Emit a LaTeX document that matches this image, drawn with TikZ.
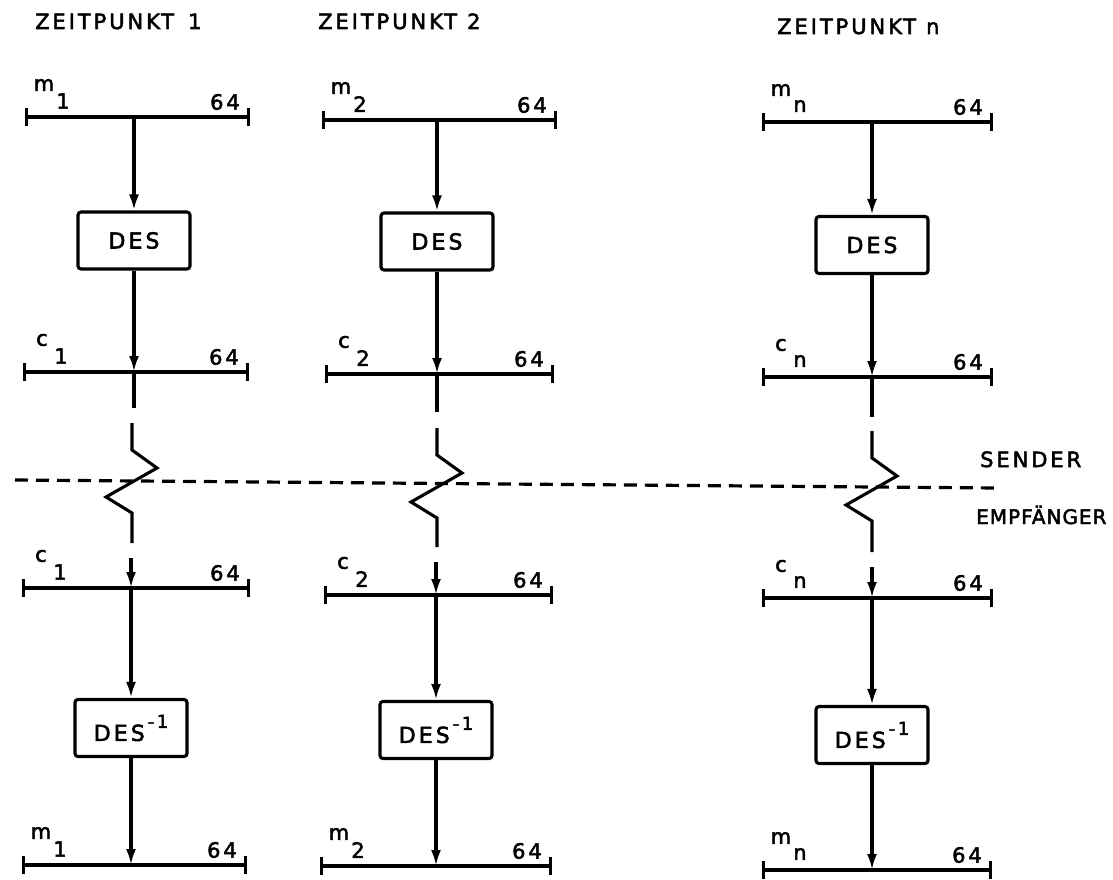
\documentclass[tikz,border=0pt]{standalone}
\usepackage{fontspec}
\setmainfont{DejaVu Sans}[LetterSpace=14, FakeBold=2.4]
\usetikzlibrary{arrows.meta}
\tikzset{
  ln/.style={line width=3.1pt},
  arr/.style={ln,-{Latex[length=16pt,width=10pt]}},
  barline/.style={ln,{Bar[width=18pt,line width=3.4pt]}-{Bar[width=18pt,line width=3.4pt]}},
  sep/.style={line width=3.2pt, dash pattern=on 13pt off 8pt},
  desbox/.style={draw, ln, rounded corners=3pt, minimum width=112pt, minimum height=57pt, inner sep=0pt, font=\fontsize{22}{24}\selectfont},
  lbl/.style={inner sep=0pt, font=\fontsize{21}{22}\selectfont},
  ttl/.style={inner sep=0pt, anchor=base west, font=\fontsize{21}{24}\selectfont},
}
% name, xl, xr, y, cx, letter, sub
\newcommand\databar[7]{%
  \coordinate (#1L) at (#2,#4);
  \coordinate (#1R) at (#3,#4);
  \coordinate (#1C) at (#5,#4);
  \draw[barline] (#1L) -- (#1R);
  \node[lbl] (#1a) at ({#2+19},{#4-32}) {#6};
  \node[lbl] (#1b) at ({#2+38},{#4-16}) {#7};
  \node[lbl, anchor=east] (#1c) at ({#3-10},{#4-15}) {64};
}
\begin{document}
\begin{tikzpicture}[x=1pt,y=-1pt]
\useasboundingbox[fill=white] (0,0) rectangle (1113,880);

% titles
\node[ttl] (T1) at (35,29) {ZEITPUNKT\hspace{14pt}1};
\node[ttl] (T2) at (318,29) {ZEITPUNKT\hspace{10pt}2};
\node[ttl] (T3) at (777,34) {ZEITPUNKT\hspace{10pt}n};

% separator
\coordinate (sepL) at (15,480);
\coordinate (sepR) at (998,488);
\draw[sep] (sepL) -- (sepR);
\node[ttl] (snd) at (980,467) {SENDER};
\node[ttl, font=\fontsize{20}{24}\selectfont\addfontfeature{LetterSpace=5}] (emp) at (976,524) {EMPFÄNGER};

% ---------- column 1 ----------
\databar{t1}{25}{250}{117}{134}{m}{1}
\node[desbox] (d1) at (134,240.5) {DES};
\databar{c1}{23}{249}{372}{134}{c}{1}
\coordinate (s1a) at (134,408);
\coordinate (z1a) at (132,423);
\coordinate (z1b) at (132,543);
\coordinate (s1b) at (131,558);
\databar{e1}{22}{250}{588}{131}{c}{1}
\node[desbox] (i1) at (131,728) {DES\hspace{3pt}\raisebox{13pt}{\fontsize{18}{18}\selectfont -1}};
\databar{b1}{22}{247}{865}{131}{m}{1}

\draw[arr] (t1C) -- (d1.north);
\draw[arr] (d1.south) -- (c1C);
\draw[ln] (c1C) -- (s1a);
\draw[ln] (z1a) -- ++(0,27) -- ++(25,18) -- ++(-51,29) -- ++(26,16) -- (z1b);
\draw[arr] (s1b) -- (e1C);
\draw[arr] (e1C) -- (i1.north);
\draw[arr] (i1.south) -- (b1C);

% ---------- column 2 ----------
\databar{t2}{322}{557}{120}{437}{m}{2}
\node[desbox] (d2) at (437,241.5) {DES};
\databar{c2}{325}{554}{374}{437}{c}{2}
\coordinate (s2a) at (437,412);
\coordinate (z2a) at (437,428);
\coordinate (z2b) at (437,547);
\coordinate (s2b) at (436,562);
\databar{e2}{324}{553}{595}{436}{c}{2}
\node[desbox] (i2) at (436,730) {DES\hspace{3pt}\raisebox{13pt}{\fontsize{18}{18}\selectfont -1}};
\databar{b2}{320}{552}{866}{436}{m}{2}

\draw[arr] (t2C) -- (d2.north);
\draw[arr] (d2.south) -- (c2C);
\draw[ln] (c2C) -- (s2a);
\draw[ln] (z2a) -- ++(0,27) -- ++(25,18) -- ++(-51,29) -- ++(26,16) -- (z2b);
\draw[arr] (s2b) -- (e2C);
\draw[arr] (e2C) -- (i2.north);
\draw[arr] (i2.south) -- (b2C);

% ---------- column 3 ----------
\databar{t3}{762}{993}{122}{872}{m}{n}
\node[desbox] (d3) at (872,245) {DES};
\databar{c3}{762}{993}{377}{872}{c}{n}
\coordinate (s3a) at (872,417);
\coordinate (z3a) at (872,431);
\coordinate (z3b) at (872,552);
\coordinate (s3b) at (872,567);
\databar{e3}{762}{993}{598}{872}{c}{n}
\node[desbox] (i3) at (872,735) {DES\hspace{3pt}\raisebox{13pt}{\fontsize{18}{18}\selectfont -1}};
\databar{b3}{762}{992}{870}{872}{m}{n}

\draw[arr] (t3C) -- (d3.north);
\draw[arr] (d3.south) -- (c3C);
\draw[ln] (c3C) -- (s3a);
\draw[ln] (z3a) -- ++(0,27) -- ++(25,18) -- ++(-51,29) -- ++(26,16) -- (z3b);
\draw[arr] (s3b) -- (e3C);
\draw[arr] (e3C) -- (i3.north);
\draw[arr] (i3.south) -- (b3C);
\end{tikzpicture}
\end{document}
